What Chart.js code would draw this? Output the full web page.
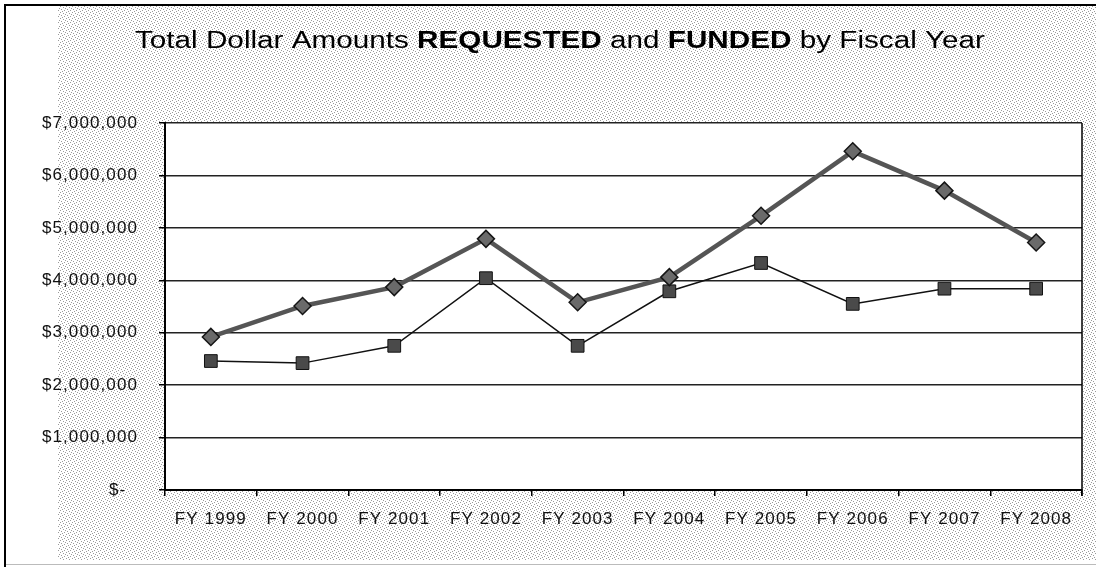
<!DOCTYPE html>
<html><head><meta charset="utf-8">
<script src="https://cdn.jsdelivr.net/npm/chart.js@4.4.1/dist/chart.umd.min.js"></script>
<style>html,body{margin:0;padding:0;background:#fff;overflow:hidden}canvas{display:block}</style>
</head><body>
<canvas id="c" width="1096" height="567"></canvas>
<script>
// ---- data ----
const categories = ['FY 1999','FY 2000','FY 2001','FY 2002','FY 2003','FY 2004','FY 2005','FY 2006','FY 2007','FY 2008'];
const requested = [2920000, 3510000, 3870000, 4790000, 3580000, 4060000, 5230000, 6460000, 5710000, 4720000];
const funded    = [2460000, 2420000, 2750000, 4040000, 2750000, 3790000, 4330000, 3550000, 3840000, 3840000];
const yMin = 0, yMax = 7000000, yStep = 1000000;
const titleParts = [
  {text:'Total Dollar Amounts ', bold:false},
  {text:'REQUESTED', bold:true},
  {text:' and ', bold:false},
  {text:'FUNDED', bold:true},
  {text:' by Fiscal Year', bold:false}
];

const FONT = '"Liberation Sans", Arial, sans-serif';
const SPACING = '1.1px';

function makePattern(ctx){
  const t = document.createElement('canvas'); t.width = 6; t.height = 6;
  const c = t.getContext('2d');
  c.fillStyle = '#fff'; c.fillRect(0,0,6,6);
  c.fillStyle = '#9a9a9a';
  [[0,0],[3,1],[1,3],[4,4],[5,2],[2,5]].forEach(([x,y])=>c.fillRect(x,y,1,1));
  return ctx.createPattern(t,'repeat');
}

const spacingPlugin = {
  id:'spacing',
  beforeUpdate(chart){ chart.ctx.letterSpacing = SPACING; },
  beforeLayout(chart){ chart.ctx.letterSpacing = SPACING; },
  beforeDraw(chart){ chart.ctx.letterSpacing = SPACING; }
};

let pattern = null;
const bgPlugin = {
  id:'bg',
  beforeDraw(chart){
    const {ctx, chartArea:a, width:W, height:H} = chart;
    if(!pattern) pattern = makePattern(ctx);
    ctx.save();
    ctx.fillStyle = '#fff'; ctx.fillRect(0,0,W,H);
    ctx.fillStyle = pattern; ctx.fillRect(58,6,W-58,554);
    ctx.fillStyle = '#000'; ctx.fillRect(4,4,2,H-4); ctx.fillRect(4,4,W-4,2);
    ctx.fillStyle = '#bbb'; ctx.fillRect(6,564,W-6,1);
    ctx.fillStyle = '#fff'; ctx.fillRect(a.left,a.top,a.right-a.left,a.bottom-a.top);
    ctx.restore();
  },
  afterDraw(chart){
    const {ctx, chartArea:a} = chart;
    ctx.save();
    ctx.strokeStyle = '#000'; ctx.lineWidth = 1.5;
    ctx.beginPath(); ctx.moveTo(a.right, a.top); ctx.lineTo(a.right, a.bottom + 6); ctx.stroke();
    // title
    ctx.letterSpacing = '0px';
    ctx.fillStyle = '#000'; ctx.textBaseline = 'alphabetic'; ctx.textAlign = 'left';
    const widths = titleParts.map(p=>{ ctx.font = (p.bold?'bold ':'') + '23px ' + FONT; return ctx.measureText(p.text).width; });
    const total = widths.reduce((s,w)=>s+w,0);
    const target = 850, cx = 560, base = 48;
    ctx.translate(cx - target/2, base); ctx.scale(target/total, 1);
    let x = 0;
    titleParts.forEach((p,i)=>{ ctx.font = (p.bold?'bold ':'') + '23px ' + FONT; ctx.fillText(p.text, x, 0); x += widths[i]; });
    ctx.restore();
  }
};

new Chart(document.getElementById('c'), {
  type:'line',
  data:{
    labels: categories,
    datasets:[
      { label:'Requested', data: requested, borderColor:'#555', borderWidth:4.5,
        pointStyle:'rectRot', pointRadius:8.5, pointHoverRadius:8.5,
        pointBackgroundColor:'#6a6a6a', pointBorderColor:'#151515', pointBorderWidth:1.5, tension:0 },
      { label:'Funded', data: funded, borderColor:'#111', borderWidth:1.5,
        pointStyle:'rect', pointRadius:9, pointHoverRadius:9,
        pointBackgroundColor:'#4a4a4a', pointBorderColor:'#111', pointBorderWidth:1, tension:0 }
    ]
  },
  options:{
    responsive:false, devicePixelRatio:1, animation:false,
    layout:{ padding:{ top:123, right:14, left:0, bottom:0 } },
    plugins:{ legend:{display:false}, title:{display:false}, tooltip:{enabled:false} },
    scales:{
      x:{
        offset:true,
        grid:{ display:true, drawOnChartArea:false, offset:true, tickLength:6, color:'#000', lineWidth:1.5 },
        border:{ display:true, color:'#000', width:2 },
        ticks:{ color:'#111', font:{ family:FONT, size:17 }, padding:13, maxRotation:0, autoSkip:false },
        afterFit(s){ s.height = 77; }
      },
      y:{
        min:yMin, max:yMax,
        grid:{ color:'#222', lineWidth:1.5, tickLength:6, tickColor:'#000' },
        border:{ display:true, color:'#000', width:2 },
        ticks:{ stepSize:yStep, color:'#111', font:{ family:FONT, size:17 }, padding:21,
          callback:v => v === 0 ? '$-  ' : '$' + Number(v).toLocaleString('en-US') },
        afterFit(s){ s.width = 165; }
      }
    }
  },
  plugins:[spacingPlugin, bgPlugin]
});
</script>
</body></html>
